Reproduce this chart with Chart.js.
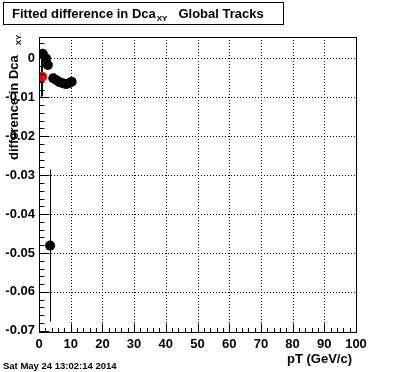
<!DOCTYPE html>
<html>
<head>
<meta charset="utf-8">
<script src="https://cdn.jsdelivr.net/npm/chart.js@4/dist/chart.umd.min.js"></script>
<style>
html,body{margin:0;padding:0;background:#fff;}
#wrap{width:396px;height:372px;position:relative;}
</style>
</head>
<body>
<div id="wrap"><canvas id="c"></canvas></div>
<script>
// ---- data ----
const blackX = [0.5, 1.2, 2.2, 2.8, 3.5, 4.5, 5.5, 6.5, 7.5, 8.5, 9.5, 10.3];
const blackY = [-0.005, 0.0012, 0.0, -0.0017, -0.0481, -0.0051, -0.0056, -0.0061, -0.0064, -0.0066, -0.0064, -0.006];
const blackErr = [0.005, 0, 0, 0, 0.0195, 0, 0, 0, 0, 0, 0, 0];
const redX = [1.0];
const redY = [-0.0047];
const redErr = [0.005];

const xTickValues = [0, 10, 20, 30, 40, 50, 60, 70, 80, 90, 100];
const xTickLabels = ["0", "10", "20", "30", "40", "50", "60", "70", "80", "90", "100"];
const yTickValues = [0, -0.01, -0.02, -0.03, -0.04, -0.05, -0.06, -0.07];
const yTickLabels = ["0", "-0.01", "-0.02", "-0.03", "-0.04", "-0.05", "-0.06", "-0.07"];

const titleMain = "Fitted difference in Dca";
const titleSub = "XY";
const titleRest = "Global Tracks";
const yTitleMain = "difference in Dca";
const yTitleSub = "XY";
const xTitle = "pT (GeV/c)";
const dateText = "Sat May 24 13:02:14 2014";

const FONT = '"Liberation Sans", Arial, Helvetica, sans-serif';

function pts(xs, ys) { return xs.map((x, i) => ({x: x, y: ys[i]})); }

const rootPlugin = {
  id: 'rootStyle',
  beforeDatasetsDraw(chart) {
    const ctx = chart.ctx, a = chart.chartArea;
    const xs = chart.scales.x, ys = chart.scales.y;
    ctx.save();
    ctx.strokeStyle = '#000';
    ctx.lineWidth = 1;
    ctx.setLineDash([1, 2]);
    xTickValues.forEach(v => {
      const px = Math.round(xs.getPixelForValue(v)) + 0.5;
      if (px <= a.left + 1 || px >= a.right - 1) return;
      ctx.beginPath(); ctx.moveTo(px, a.top); ctx.lineTo(px, a.bottom); ctx.stroke();
    });
    yTickValues.forEach(v => {
      const py = Math.round(ys.getPixelForValue(v)) + 0.5;
      if (py <= a.top + 1 || py >= a.bottom - 1) return;
      ctx.beginPath(); ctx.moveTo(a.left, py); ctx.lineTo(a.right, py); ctx.stroke();
    });
    ctx.setLineDash([]);
    const drawErr = (X, Y, E) => {
      X.forEach((x, i) => {
        if (!E[i]) return;
        const px = Math.round(xs.getPixelForValue(x)) + 0.5;
        ctx.beginPath();
        ctx.moveTo(px, ys.getPixelForValue(Y[i] + E[i]));
        ctx.lineTo(px, ys.getPixelForValue(Y[i] - E[i]));
        ctx.stroke();
      });
    };
    drawErr(blackX, blackY, blackErr);
    drawErr(redX, redY, redErr);
    ctx.restore();
  },
  afterDraw(chart) {
    const ctx = chart.ctx, a = chart.chartArea;
    const xs = chart.scales.x, ys = chart.scales.y;
    ctx.save();
    ctx.strokeStyle = '#000';
    ctx.fillStyle = '#000';
    ctx.lineWidth = 1;
    const L = Math.floor(a.left) + 0.5, R = Math.floor(a.right) + 0.5;
    const T = Math.floor(a.top) + 0.5, B = Math.floor(a.bottom) + 0.5;
    ctx.strokeRect(L, T, R - L, B - T);
    for (let v = 0; v <= 100; v += 2) {
      const px = Math.round(xs.getPixelForValue(v)) + 0.5;
      const len = (v % 10 === 0) ? 9 : 4.5;
      ctx.beginPath(); ctx.moveTo(px, B); ctx.lineTo(px, B - len); ctx.stroke();
    }
    for (let k = -36; k <= 3; k++) {
      const v = k * 0.002;
      if (v < ys.min || v > ys.max) continue;
      const py = Math.round(ys.getPixelForValue(v)) + 0.5;
      const len = (k % 5 === 0) ? 10 : 5;
      ctx.beginPath(); ctx.moveTo(L, py); ctx.lineTo(L + len, py); ctx.stroke();
    }
    ctx.strokeRect(3.5, 2.5, 280, 22);
    ctx.textBaseline = 'alphabetic';
    ctx.textAlign = 'left';
    ctx.font = 'bold 13px ' + FONT;
    ctx.fillText(titleMain, 12, 18);
    let w = ctx.measureText(titleMain).width;
    ctx.font = 'bold 8px ' + FONT;
    ctx.fillText(titleSub, 12 + w + 1, 21);
    const ws = ctx.measureText(titleSub).width;
    ctx.font = 'bold 13px ' + FONT;
    ctx.fillText(titleRest, 12 + w + 1 + ws + 11, 18);
    ctx.save();
    ctx.translate(18, 160);
    ctx.rotate(-Math.PI / 2);
    ctx.font = 'bold 13px ' + FONT;
    ctx.fillText(yTitleMain, 0, 0);
    const wy = ctx.measureText(yTitleMain).width;
    ctx.font = 'bold 8px ' + FONT;
    ctx.fillText(yTitleSub, wy + 10, 3);
    ctx.restore();
    ctx.font = 'bold 13px ' + FONT;
    ctx.textAlign = 'right';
    ctx.fillText(xTitle, 352, 363);
    ctx.font = 'bold 9.5px ' + FONT;
    ctx.textAlign = 'left';
    ctx.fillText(dateText, 3, 369);
    ctx.restore();
  }
};

new Chart(document.getElementById('c'), {
  type: 'scatter',
  data: {
    datasets: [
      {
        label: 'red',
        data: pts(redX, redY),
        backgroundColor: '#ff0000',
        borderColor: '#ff0000',
        pointRadius: 5,
        pointBorderWidth: 0,
        showLine: false
      },
      {
        label: 'black',
        data: pts(blackX, blackY),
        backgroundColor: '#000',
        borderColor: '#000',
        pointRadius: 5,
        pointBorderWidth: 0,
        showLine: false
      }
    ]
  },
  options: {
    responsive: true,
    maintainAspectRatio: false,
    animation: false,
    events: [],
    layout: { padding: { top: 37, right: 40, left: 0, bottom: 0 } },
    plugins: { legend: { display: false }, tooltip: { enabled: false }, title: { display: false } },
    scales: {
      x: {
        type: 'linear',
        min: 0, max: 100,
        grid: { display: false, drawTicks: false },
        border: { display: false },
        afterFit(s) { s.height = 40; },
        afterBuildTicks(s) { s.ticks = xTickValues.map(v => ({ value: v })); },
        ticks: {
          autoSkip: false, maxRotation: 0, padding: 5,
          color: '#000',
          font: { family: FONT, size: 13, weight: 'bold' },
          callback: (v) => { const i = xTickValues.indexOf(v); return i >= 0 ? xTickLabels[i] : ''; }
        }
      },
      y: {
        type: 'linear',
        min: -0.0703, max: 0.0055,
        grid: { display: false, drawTicks: false },
        border: { display: false },
        afterFit(s) { s.width = 39; },
        afterBuildTicks(s) { s.ticks = yTickValues.map(v => ({ value: v })); },
        ticks: {
          autoSkip: false, padding: 4,
          color: '#000',
          font: { family: FONT, size: 13, weight: 'bold' },
          callback: (v) => { const i = yTickValues.findIndex(t => Math.abs(t - v) < 1e-9); return i >= 0 ? yTickLabels[i] : ''; }
        }
      }
    }
  },
  plugins: [rootPlugin]
});
</script>
</body>
</html>
